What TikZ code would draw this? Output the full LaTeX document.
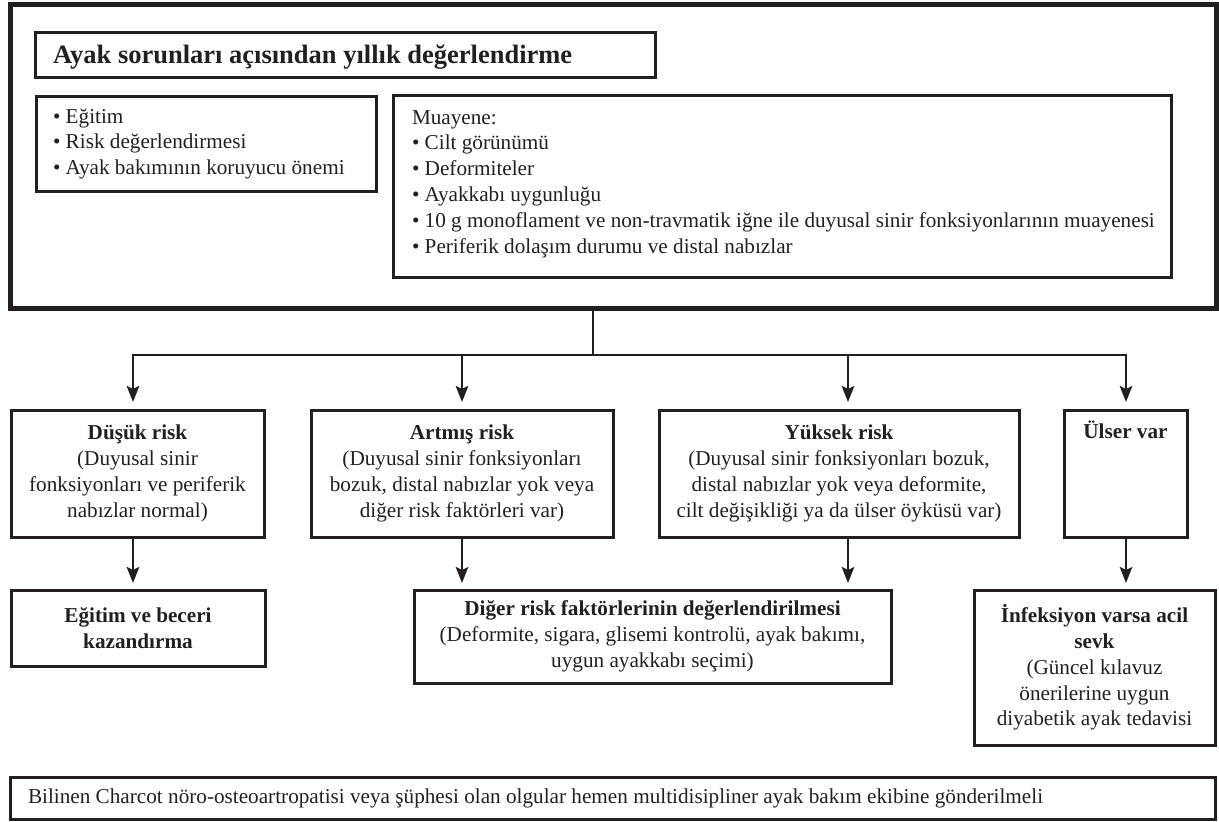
\documentclass[tikz,border=0pt]{standalone}
\usepackage{fontspec}
\setmainfont{Liberation Serif}
\usetikzlibrary{arrows.meta}
\definecolor{ink}{RGB}{35,31,32}
\newcommand{\fls}{\rule{0pt}{16pt}}
\begin{document}
\begin{tikzpicture}[x=1pt,y=-1pt,
  every node/.style={inner sep=0pt, outer sep=0pt, text=ink},
  bodyfont/.style={font=\fontsize{21.2}{25.8}\selectfont},
  box/.style={draw=ink, line width=3pt, rectangle, anchor=north west, bodyfont, align=center},
  bigbox/.style={draw=ink, line width=5pt, rectangle, anchor=north west},
  txt/.style={bodyfont, align=left},
  conn/.style={draw=ink, line width=2.2pt},
  arr/.style={conn, -{Stealth[length=16pt,width=12.5pt,inset=3pt]}}
]
\useasboundingbox (0,0) rectangle (1219,822);

% top block
\node[bigbox, minimum width=1206pt, minimum height=304pt] (outer) at (10,4) {};
\node[box, minimum width=620pt, minimum height=45pt] (titlebox) at (35,32) {};
\node[anchor=base west, font=\fontsize{26.5}{32}\selectfont\bfseries] (title) at (53,63) {Ayak sorunları açısından yıllık değerlendirme};

\node[box, minimum width=340pt, minimum height=95pt] (leftbox) at (36,96) {};
\node[txt, anchor=north west] (lefttxt) at (53,107) {\fls• Eğitim\\• Risk değerlendirmesi\\• Ayak bakımının koruyucu önemi};

\node[box, minimum width=778pt, minimum height=182pt] (muabox) at (393,95) {};
\node[txt, anchor=north west] (muatxt) at (412,108) {\fls Muayene:\\• Cilt görünümü\\• Deformiteler\\• Ayakkabı uygunluğu\\• 10 g monoflament ve non-travmatik iğne ile duyusal sinir fonksiyonlarının muayenesi\\• Periferik dolaşım durumu ve distal nabızlar};

% row 2
\node[box, minimum width=253pt, minimum height=127pt] (low) at (11,410) {\textbf{Düşük risk}\\(Duyusal sinir\\fonksiyonları ve periferik\\nabızlar normal)};
\node[box, minimum width=302pt, minimum height=127pt] (inc) at (311,410) {\textbf{Artmış risk}\\(Duyusal sinir fonksiyonları\\bozuk, distal nabızlar yok veya\\diğer risk faktörleri var)};
\node[box, minimum width=360pt, minimum height=127pt] (high) at (659,410) {\textbf{Yüksek risk}\\(Duyusal sinir fonksiyonları bozuk,\\distal nabızlar yok veya deformite,\\cilt değişikliği ya da ülser öyküsü var)};
\node[box, minimum width=123pt, minimum height=127pt] (ulcer) at (1064,410) {};
\node[anchor=base, bodyfont] (ulcertxt) at (1125.5,438) {\textbf{Ülser var}};

% row 3
\node[box, minimum width=254pt, minimum height=76pt] (edu) at (11,590) {\textbf{Eğitim ve beceri}\\\textbf{kazandırma}};
\node[box, minimum width=477pt, minimum height=93pt] (other) at (414,590) {\textbf{Diğer risk faktörlerinin değerlendirilmesi}\\(Deformite, sigara, glisemi kontrolü, ayak bakımı,\\uygun ayakkabı seçimi)};
\node[box, minimum width=241pt, minimum height=155pt] (inf) at (974,590) {\textbf{İnfeksiyon varsa acil}\\\textbf{sevk}\\(Güncel kılavuz\\önerilerine uygun\\diyabetik ayak tedavisi};

% bottom note
\node[box, minimum width=1205pt, minimum height=42pt] (note) at (10,777) {};
\node[anchor=base west, bodyfont] (notetxt) at (28,803) {Bilinen Charcot nöro-osteoartropatisi veya şüphesi olan olgular hemen multidisipliner ayak bakım ekibine gönderilmeli};

% connectors
\coordinate (split) at (593,355);
\coordinate (xa) at (133,0);
\coordinate (xb) at (462,0);
\coordinate (xc) at (848,0);
\coordinate (xd) at (1126,0);
\draw[conn] (outer.south -| split) -- (split);
\draw[arr, shorten >=8pt] (split) -| (xa |- low.north);
\draw[arr, shorten >=8pt] (split) -| (xd |- ulcer.north);
\draw[arr, shorten >=8pt] (xb |- split) -- (xb |- inc.north);
\draw[arr, shorten >=8pt] (xc |- split) -- (xc |- high.north);

\draw[arr, shorten >=7pt] (xa |- low.south) -- (xa |- edu.north);
\draw[arr, shorten >=7pt] (xb |- inc.south) -- (xb |- other.north);
\draw[arr, shorten >=7pt] (xc |- high.south) -- (xc |- other.north);
\draw[arr, shorten >=7pt] (xd |- ulcer.south) -- (xd |- inf.north);
\end{tikzpicture}
\end{document}
